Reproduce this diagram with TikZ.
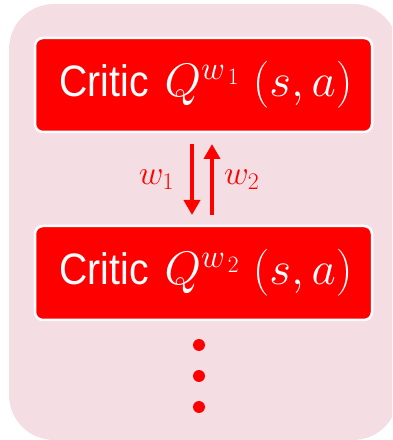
\RequirePackage{fix-cm}
\documentclass[tikz,border=0pt]{standalone}
\usepackage{fontspec}
\setmainfont{Liberation Sans}
\usetikzlibrary{arrows.meta,positioning,calc}
\definecolor{criticred}{HTML}{FF0000}
\definecolor{softpink}{HTML}{F4DEE4}
\tikzset{
    criticbox/.style={draw=white,fill=criticred,line width=2.5pt,rounded corners=8pt,
      minimum width=337pt,minimum height=94pt,inner sep=0pt,outer sep=0pt,
      text=white,font=\fontsize{44}{44}\selectfont},
    syncarrow/.style={-{Triangle[length=15pt,width=16pt]},draw=criticred,
      line width=4pt},
    weightlabel/.style={text=criticred,font=\fontsize{34}{34}\selectfont,inner sep=0pt},
    moredot/.style={circle,fill=criticred,minimum size=12pt,inner sep=0pt}
}
\newcommand{\criticlabel}[1]{\hspace{5pt}\scalebox{0.89}[1]{Critic}\hspace{16pt}%
  {\fontsize{47}{47}\selectfont$Q^{w_{\mkern3mu#1}}\mkern5mu(s,a)$}}

\begin{document}
\begin{tikzpicture}[x=1pt,y=1pt]
  \useasboundingbox (0,0) rectangle (392,440);
  \clip (0,0) rectangle (392,440);
  \fill[softpink,rounded corners=45pt] (9,0) rectangle (398,436);
  % the two critics
  \node[criticbox] (critic1) at (203.5,355) {\criticlabel{1}};
  \node[criticbox,below=94pt of critic1] (critic2) {\criticlabel{2}};
  % weights passed between them
  \coordinate (downtop) at ($(critic1.south)+(-11.5,-12)$);
  \coordinate (downend) at ($(critic2.north)+(-11.5,11)$);
  \coordinate (uptop) at ($(critic1.south)+(8.5,-12)$);
  \coordinate (upend) at ($(critic2.north)+(8.5,11)$);
  \draw[syncarrow] (downtop) -- (downend) node[midway,left=16pt,weightlabel]{$w_1$};
  \draw[syncarrow] (upend) -- (uptop) node[midway,right=10pt,weightlabel]{$w_2$};
  % more critics
  \foreach \i in {1,2,3}
    \node[moredot] (dot\i) at ($(critic2.south)+(-4.5,-25-31*\i+31)$) {};
\end{tikzpicture}
\end{document}
